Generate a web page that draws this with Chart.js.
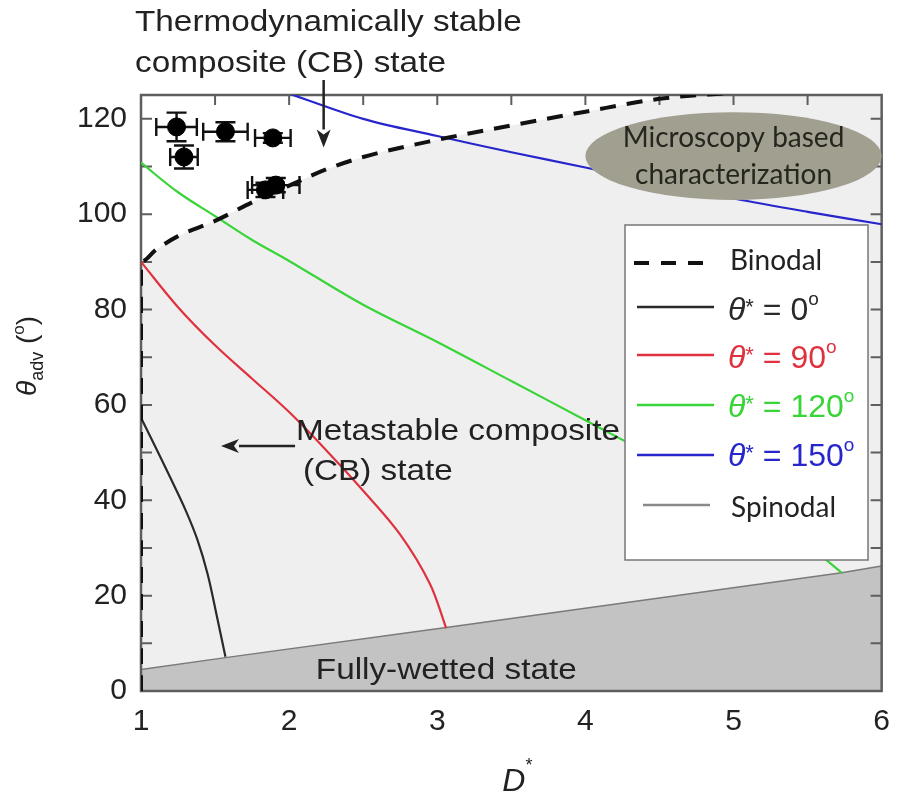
<!DOCTYPE html>
<html>
<head>
<meta charset="utf-8">
<script src="https://cdn.jsdelivr.net/npm/chart.js@4.4.1/dist/chart.umd.min.js"></script>
<style>
  html, body { margin: 0; padding: 0; background: #fff; }
  #wrap { width: 903px; height: 801px; }
</style>
</head>
<body>
<div id="wrap"><canvas id="chart" width="903" height="801"></canvas></div>
<script>
// values: [D*, theta_adv]
const binodal = [[1, 0], [1, 90], [1.1, 92.5], [1.25, 95.4], [1.5, 98.6], [1.75, 102.5], [2, 106],
  [2.25, 109.4], [2.5, 112], [3, 115.6], [3.5, 118.6], [4, 121.5], [4.5, 124.2], [5, 125.5], [6, 128]];
const theta0 = [[1, 57.3], [1.1, 51], [1.2, 44.6], [1.3, 38], [1.38, 31.8], [1.45, 24.5], [1.51, 16], [1.57, 7.2]];
const theta90 = [[1, 90], [1.25, 80.5], [1.5, 72.5], [1.75, 65.5], [2, 58.5], [2.25, 50.5], [2.5, 42],
  [2.75, 32.8], [2.95, 22.5], [3.06, 13.2]];
const theta120 = [[1, 110.8], [1.25, 104.6], [1.5, 99.6], [1.75, 94.6], [2, 90.2], [2.5, 81], [3, 73.2],
  [3.5, 65], [4, 56.8], [4.5, 48.5], [5, 40], [5.5, 30.5], [5.73, 24.8]];
const theta150 = [[2, 125.3], [2.5, 120], [3, 116.4], [3.5, 113], [4, 109.8], [4.5, 106.5], [5, 103.3],
  [5.5, 100.5], [6, 97.9]];
const spinodal = [[1, 4.5], [1.57, 7.0], [3.06, 13.3], [5.73, 24.8], [6, 26.2]];

// measured points with error bars
const ptX = [1.24, 1.29, 1.57, 1.89, 1.84, 1.91];
const ptY = [118.3, 112.0, 117.3, 116.0, 105.1, 106.1];
const ptXErr = [0.137, 0.093, 0.15, 0.12, 0.12, 0.16];
const ptYErr = [3.0, 2.4, 2.0, 1.0, 1.5, 1.5];

const thetaStar = [0, 90, 120, 150];
const xTicks = [1, 2, 3, 4, 5, 6];
const yTicks = [0, 20, 40, 60, 80, 100, 120];

const COLORS = ['#2a2a2a', '#e0323e', '#38d438', '#2626cc'];
const TXT = '#222';
const SANS = '"Liberation Sans", Arial, sans-serif';
const SPIN_INDEX = 1;
const PT_INDEX = 7;

const xy = arr => arr.map(([x, y]) => ({ x, y }));

function drawArrow(ctx, x1, y1, x2, y2) {
  const ang = Math.atan2(y2 - y1, x2 - x1);
  const hl = 18, hw = 7;
  const bx = x2 - hl * Math.cos(ang), by = y2 - hl * Math.sin(ang);
  ctx.beginPath();
  ctx.moveTo(x1, y1);
  ctx.lineTo(bx, by);
  ctx.stroke();
  ctx.beginPath();
  ctx.moveTo(x2, y2);
  ctx.lineTo(bx - hw * Math.sin(ang), by + hw * Math.cos(ang));
  ctx.lineTo(bx + 5 * Math.cos(ang), by + 5 * Math.sin(ang));
  ctx.lineTo(bx + hw * Math.sin(ang), by - hw * Math.cos(ang));
  ctx.closePath();
  ctx.fill();
}

// text runs: {t, font, dy}
function drawRuns(ctx, runs, x, y, align) {
  let w = 0;
  runs.forEach(r => { ctx.font = r.font; w += ctx.measureText(r.t).width; });
  let cx = align === 'center' ? x - w / 2 : x;
  ctx.textAlign = 'left';
  runs.forEach(r => {
    ctx.font = r.font;
    ctx.fillText(r.t, cx, y + (r.dy || 0));
    cx += ctx.measureText(r.t).width;
  });
}

function stretchText(ctx, text, x, y, sx) {
  ctx.save();
  ctx.translate(x, y);
  ctx.scale(sx, 1);
  ctx.fillText(text, 0, 0);
  ctx.restore();
}

const framePlugin = {
  id: 'frame',
  afterDatasetDraw(chart, args) {
    if (args.index !== SPIN_INDEX) return;
    const { ctx, chartArea: a, scales: { x, y } } = chart;
    ctx.save();
    ctx.strokeStyle = '#5e5e5e';
    ctx.lineWidth = 2.5;
    ctx.strokeRect(a.left, a.top, a.right - a.left, a.bottom - a.top);
    ctx.lineWidth = 2;
    ctx.beginPath();
    for (let v = x.min + 0.5; v < x.max; v += 0.5) {
      const p = x.getPixelForValue(v);
      ctx.moveTo(p, a.top); ctx.lineTo(p, a.top + 10);
    }
    for (let v = y.min + 10; v < y.max; v += 10) {
      const p = y.getPixelForValue(v);
      ctx.moveTo(a.left, p); ctx.lineTo(a.left + 11, p);
      ctx.moveTo(a.right, p); ctx.lineTo(a.right - 11, p);
    }
    ctx.stroke();
    ctx.restore();
  }
};

const errorBars = {
  id: 'errorBars',
  beforeDatasetDraw(chart, args) {
    if (args.index !== PT_INDEX) return;
    const { ctx, scales: { x, y } } = chart;
    ctx.save();
    ctx.strokeStyle = '#111';
    ctx.lineWidth = 2.4;
    ctx.beginPath();
    ptX.forEach((vx, i) => {
      const cx = x.getPixelForValue(vx), cy = y.getPixelForValue(ptY[i]);
      const l = x.getPixelForValue(vx - ptXErr[i]), r = x.getPixelForValue(vx + ptXErr[i]);
      const t = y.getPixelForValue(ptY[i] + ptYErr[i]), b = y.getPixelForValue(ptY[i] - ptYErr[i]);
      ctx.moveTo(l, cy); ctx.lineTo(r, cy);
      ctx.moveTo(l, cy - 9); ctx.lineTo(l, cy + 9);
      ctx.moveTo(r, cy - 9); ctx.lineTo(r, cy + 9);
      ctx.moveTo(cx, t); ctx.lineTo(cx, b);
      ctx.moveTo(cx - 10, t); ctx.lineTo(cx + 10, t);
      ctx.moveTo(cx - 10, b); ctx.lineTo(cx + 10, b);
    });
    ctx.stroke();
    ctx.restore();
  }
};

const annotations = {
  id: 'annotations',
  afterDatasetsDraw(chart) {
    const { ctx, scales: { x, y } } = chart;
    ctx.save();
    ctx.fillStyle = TXT;
    ctx.strokeStyle = TXT;
    ctx.lineWidth = 2.5;
    ctx.textBaseline = 'alphabetic';
    ctx.font = '30px ' + SANS;
    // labels outside the plot
    stretchText(ctx, 'Thermodynamically stable', 135, 31, 1.11);
    stretchText(ctx, 'composite (CB) state', 135, 72, 1.11);
    drawArrow(ctx, x.getPixelForValue(2.233), 80, x.getPixelForValue(2.233), y.getPixelForValue(114));
    // labels inside
    stretchText(ctx, 'Metastable composite', x.getPixelForValue(2.047), y.getPixelForValue(52.6), 1.11);
    stretchText(ctx, '(CB) state', x.getPixelForValue(2.093), y.getPixelForValue(44.3), 1.11);
    drawArrow(ctx, x.getPixelForValue(2.04), y.getPixelForValue(51.4), x.getPixelForValue(1.54), y.getPixelForValue(51.4));
    stretchText(ctx, 'Fully-wetted state', x.getPixelForValue(2.18), y.getPixelForValue(2.5), 1.11);

    // microscopy ellipse
    const ex = x.getPixelForValue(5.0), ey = y.getPixelForValue(112.2);
    const rx = x.getPixelForValue(6.0) - ex, ry = y.getPixelForValue(112.2 - 9.2) - ey;
    ctx.fillStyle = '#a19f8f';
    ctx.beginPath();
    ctx.ellipse(ex, ey, rx, ry, 0, 0, Math.PI * 2);
    ctx.fill();
    ctx.fillStyle = '#26261f';
    ctx.font = '28px Lato, "Open Sans", sans-serif';
    ctx.textAlign = 'center';
    ctx.textBaseline = 'middle';
    ctx.fillText('Microscopy based', ex, ey - 18);
    ctx.fillText('characterization', ex, ey + 19);

    // legend box
    const L = { left: 625, top: 225, right: 868, bottom: 560 };
    ctx.fillStyle = '#fff';
    ctx.strokeStyle = '#777';
    ctx.lineWidth = 1.5;
    ctx.fillRect(L.left, L.top, L.right - L.left, L.bottom - L.top);
    ctx.strokeRect(L.left, L.top, L.right - L.left, L.bottom - L.top);
    const rowsY = [263, 307, 355, 405, 455, 505];
    const base = [270, 320, 368, 417, 466, 517];
    ctx.textBaseline = 'alphabetic';
    ctx.textAlign = 'left';
    // binodal sample
    ctx.strokeStyle = '#111';
    ctx.lineWidth = 4;
    ctx.setLineDash([15, 12]);
    ctx.beginPath(); ctx.moveTo(634, rowsY[0]); ctx.lineTo(715, rowsY[0]); ctx.stroke();
    ctx.setLineDash([]);
    ctx.fillStyle = '#222';
    ctx.font = '28px Lato, "Open Sans", sans-serif';
    ctx.fillText('Binodal', 730, base[0]);
    thetaStar.forEach((v, i) => {
      ctx.strokeStyle = COLORS[i];
      ctx.lineWidth = 2.5;
      ctx.beginPath(); ctx.moveTo(637, rowsY[i + 1]); ctx.lineTo(714, rowsY[i + 1]); ctx.stroke();
      ctx.fillStyle = COLORS[i];
      drawRuns(ctx, [
        { t: 'θ', font: 'italic 32px ' + SANS },
        { t: '*', font: '22px ' + SANS, dy: -6 },
        { t: ' = ' + v, font: '32px ' + SANS },
        { t: 'o', font: '19px ' + SANS, dy: -15 }
      ], 728, base[i + 1]);
    });
    ctx.strokeStyle = '#8a8a8a';
    ctx.lineWidth = 2.5;
    ctx.beginPath(); ctx.moveTo(643, rowsY[5]); ctx.lineTo(710, rowsY[5]); ctx.stroke();
    ctx.fillStyle = '#222';
    ctx.font = '28px Lato, "Open Sans", sans-serif';
    ctx.fillText('Spinodal', 731, base[5]);

    // axis titles
    ctx.fillStyle = TXT;
    drawRuns(ctx, [
      { t: 'D', font: 'italic 32px ' + SANS },
      { t: '*', font: '18px ' + SANS, dy: -20 }
    ], (chart.chartArea.left + chart.chartArea.right) / 2 + 6, 791, 'center');
    ctx.save();
    ctx.translate(36, 356);
    ctx.rotate(-Math.PI / 2);
    drawRuns(ctx, [
      { t: 'θ', font: 'italic 28px ' + SANS },
      { t: 'adv', font: '18px ' + SANS, dy: 7 },
      { t: ' (', font: '28px ' + SANS },
      { t: 'o', font: '17px ' + SANS, dy: -12 },
      { t: ')', font: '28px ' + SANS }
    ], 0, 0, 'center');
    ctx.restore();
    ctx.restore();
  }
};

const lineDs = (label, data, color, order) => ({
  label, data: xy(data), showLine: true, borderColor: color, borderWidth: 2.2,
  pointRadius: 0, fill: false, tension: 0.35, order,
  clip: { left: 0, top: 0, right: 0, bottom: 0 }
});

new Chart(document.getElementById('chart'), {
  type: 'scatter',
  data: {
    datasets: [
      { label: 'metastable', data: xy(binodal.slice(1)), showLine: true, borderWidth: 0, pointRadius: 0,
        backgroundColor: '#efefef', fill: 'origin', order: 20, cubicInterpolationMode: 'monotone', clip: 0 },
      { label: 'Spinodal', data: xy(spinodal), showLine: true, borderColor: '#7a7a7a', borderWidth: 1.5,
        pointRadius: 0, backgroundColor: '#c3c3c3', fill: 'origin', order: 19, clip: 0 },
      lineDs('θ* = 120°', theta120, COLORS[2], 8),
      lineDs('θ* = 90°', theta90, COLORS[1], 7),
      lineDs('θ* = 0°', theta0, COLORS[0], 6),
      lineDs('θ* = 150°', theta150, COLORS[3], 5),
      Object.assign(lineDs('Binodal', binodal, '#111', 3),
        { borderWidth: 4, borderDash: [16, 11], tension: 0, cubicInterpolationMode: 'monotone' }),
      { label: 'data', data: ptX.map((v, i) => ({ x: v, y: ptY[i] })), pointRadius: 9,
        pointBackgroundColor: '#000', pointBorderColor: '#000', order: 1, clip: false }
    ]
  },
  options: {
    responsive: false,
    animation: false,
    layout: { padding: { top: 95, right: 12, left: 0, bottom: 0 } },
    plugins: { legend: { display: false }, tooltip: { enabled: false } },
    scales: {
      x: {
        type: 'linear', min: 1, max: 6,
        grid: { display: false, drawTicks: false }, border: { display: false },
        afterBuildTicks: s => { s.ticks = xTicks.map(v => ({ value: v })); },
        ticks: { font: { size: 30, family: SANS }, color: TXT, padding: 13 },
        afterFit: s => { s.height = 110; }
      },
      y: {
        type: 'linear', min: 0, max: 125,
        grid: { display: false, drawTicks: false }, border: { display: false },
        afterBuildTicks: s => { s.ticks = yTicks.map(v => ({ value: v })); },
        ticks: { font: { size: 30, family: SANS }, color: TXT, padding: 14 },
        afterFit: s => { s.width = 141; }
      }
    }
  },
  plugins: [framePlugin, errorBars, annotations]
});
</script>
</body>
</html>
